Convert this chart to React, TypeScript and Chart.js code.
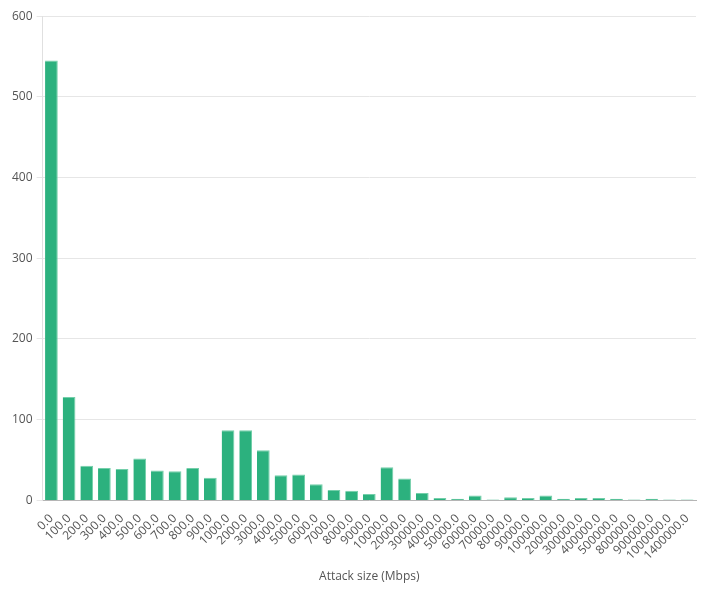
import React, { useEffect, useRef } from "react";
import { Chart, registerables } from "chart.js";

Chart.register(...registerables);

const categories = [
  "0.0", "100.0", "200.0", "300.0", "400.0", "500.0", "600.0", "700.0", "800.0", "900.0",
  "1000.0", "2000.0", "3000.0", "4000.0", "5000.0", "6000.0", "7000.0", "8000.0", "9000.0",
  "10000.0", "20000.0", "30000.0", "40000.0", "50000.0", "60000.0", "70000.0", "80000.0", "90000.0",
  "100000.0", "200000.0", "300000.0", "400000.0", "500000.0", "800000.0", "900000.0", "1000000.0", "1400000.0",
];

const attackCounts = [
  545, 128, 43, 40, 39, 52, 37, 36, 40, 28,
  87, 87, 62, 31, 32, 20, 13, 12, 8,
  41, 27, 9, 3, 2, 6, 1, 4, 3,
  6, 2, 3, 3, 2, 1, 2, 1, 1,
];

const yTicks = [0, 100, 200, 300, 400, 500, 600];
const xTitle = "Attack size (Mbps)";

export default function App() {
  const ref = useRef<HTMLCanvasElement | null>(null);
  useEffect(() => {
    if (!ref.current) return;
    const font = { family: "'Open Sans'", size: 12 };
    const chart = new Chart(ref.current, {
      type: "bar",
      data: {
        labels: categories,
        datasets: [
          {
            label: "Attacks",
            data: attackCounts,
            backgroundColor: "#2cb17e",
            borderColor: "#74cfaa",
            borderWidth: { top: 1, right: 1, left: 0, bottom: 0 },
            minBarLength: 1,
          },
        ],
      },
      options: {
        animation: false,
        responsive: true,
        maintainAspectRatio: false,
        layout: { padding: { top: 0, right: 14, left: 0, bottom: 0 } },
        plugins: { legend: { display: false }, tooltip: { enabled: false } },
        scales: {
          x: {
            grid: { display: false },
            border: { color: "#b5b5b5" },
            ticks: { color: "#555", font, minRotation: 45, maxRotation: 45, autoSkip: false, padding: 3 },
            title: { display: true, text: xTitle, color: "#555", font, padding: { top: 4, bottom: 0 } },
          },
          y: {
            min: yTicks[0],
            max: yTicks[yTicks.length - 1],
            afterBuildTicks: (axis: any) => {
              axis.ticks = yTicks.map((v) => ({ value: v }));
            },
            grid: { color: "#e6e6e6", tickLength: 6 },
            border: { color: "#e0e0e0" },
            ticks: { color: "#555", font, padding: 4 },
          },
        },
      },
    });
    return () => chart.destroy();
  }, []);
  return (
    <div style={{ position: "relative", width: "702px", height: "579px", marginTop: "-3px" }}>
      <canvas ref={ref} />
    </div>
  );
}
